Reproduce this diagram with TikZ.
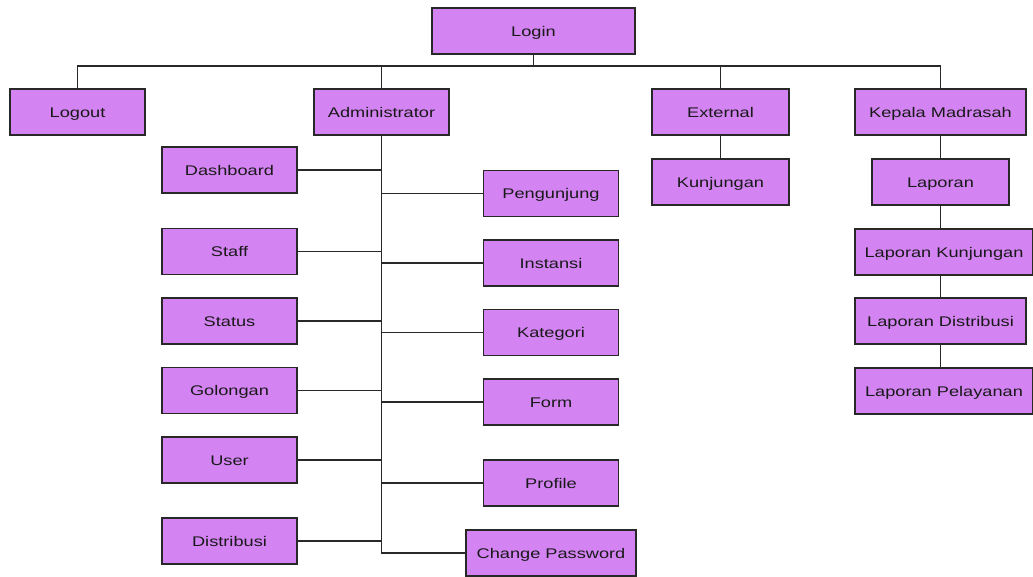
\documentclass[tikz,border=0pt]{standalone}
\usepackage{fontspec}
\setmainfont{Liberation Sans}[FakeStretch=1.3]
\definecolor{ungu}{RGB}{211,132,242}
\definecolor{garis}{RGB}{40,40,40}
\tikzset{
	menu/.style={draw=garis, line width=1.3pt, fill=ungu, minimum width=135pt,
		minimum height=46pt, text height=12pt, text depth=2pt,
		font=\fontsize{14}{16}\selectfont, text=black!90},
	hub/.style={draw=garis, line width=1.3pt}
}
\begin{document}
\begin{tikzpicture}[x=1pt,y=-1pt]
	\useasboundingbox (0,0) rectangle (1033,576);
	% tingkat atas
	\node[menu, minimum width=203pt] (login) at (533.5,31) {Login};
	\node[menu] (logout) at (77.5,112) {Logout};
	\node[menu] (admin) at (381.5,112) {Administrator};
	\node[menu, minimum width=137pt] (external) at (720.5,112) {External};
	\node[menu, minimum width=171pt] (kepala) at (940.5,112) {Kepala Madrasah};
	% external dan kepala madrasah
	\node[menu, minimum width=137pt] (kunjungan) at (720.5,182) {Kunjungan};
	\node[menu, minimum width=137pt] (laporan) at (940.5,182) {Laporan};
	\node[menu, minimum width=178pt] (lapkunjungan) at (944,252) {Laporan Kunjungan};
	\node[menu, minimum width=171pt] (lapdistribusi) at (940.5,321) {Laporan Distribusi};
	\node[menu, minimum width=178pt] (lappelayanan) at (944,391) {Laporan Pelayanan};
	% administrator, kiri
	\node[menu] (dashboard) at (229.5,170) {Dashboard};
	\node[menu] (staff) at (229.5,251.5) {Staff};
	\node[menu] (status) at (229.5,321) {Status};
	\node[menu] (golongan) at (229.5,390.5) {Golongan};
	\node[menu] (user) at (229.5,460) {User};
	\node[menu] (distribusi) at (229.5,541) {Distribusi};
	% administrator, kanan
	\node[menu] (pengunjung) at (551,193.5) {Pengunjung};
	\node[menu] (instansi) at (551,263) {Instansi};
	\node[menu] (kategori) at (551,332.5) {Kategori};
	\node[menu] (form) at (551,402) {Form};
	\node[menu] (profile) at (551,483) {Profile};
	\node[menu, minimum width=170pt] (chpass) at (551,553) {Change Password};
	% garis
	\coordinate (bus) at (533.5,66);
	\draw[hub] (login) -- (bus);
	\draw[hub] (logout.north) |- (bus) -| (kepala.north);
	\draw[hub] (bus -| admin) -- (admin.north);
	\draw[hub] (bus -| external) -- (external.north);
	\draw[hub] (external) -- (kunjungan);
	\draw[hub] (kepala) -- (laporan);
	\draw[hub] (laporan) -- (laporan |- lapkunjungan.north);
	\draw[hub] (laporan |- lapkunjungan.south) -- (laporan |- lapdistribusi.north);
	\draw[hub] (lapdistribusi) -- (laporan |- lappelayanan.north);
	\draw[hub] (admin.south) |- (chpass.west);
	\foreach \kiri in {dashboard,staff,status,golongan,user,distribusi}
		\draw[hub] (\kiri.east) -- (\kiri.east -| admin);
	\foreach \kanan in {pengunjung,instansi,kategori,form,profile}
		\draw[hub] (\kanan.west) -- (\kanan.west -| admin);
\end{tikzpicture}
\end{document}
